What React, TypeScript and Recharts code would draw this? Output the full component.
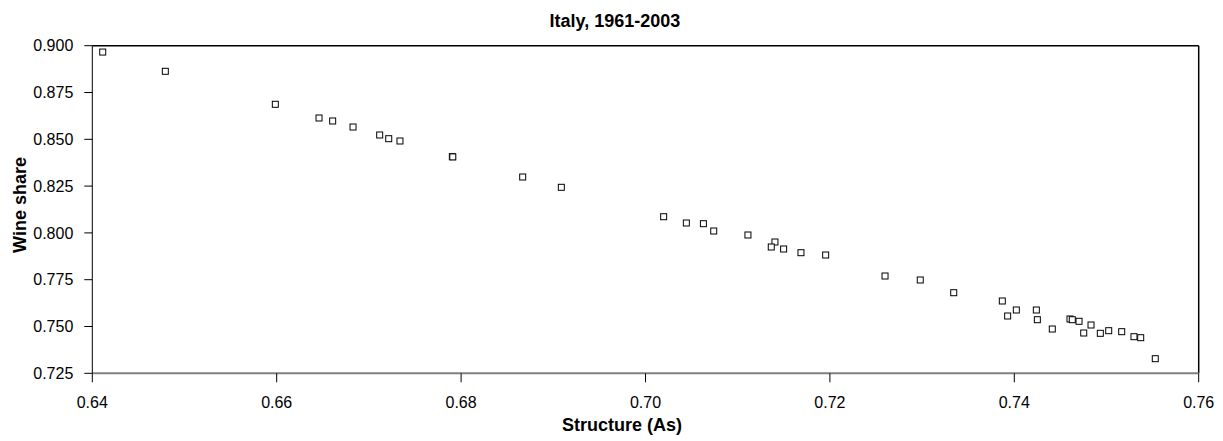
import { ScatterChart, Scatter, XAxis, YAxis, ReferenceLine } from 'recharts'

// Italy 1961-2003: structure (As) vs. wine share
const structureAs = [
  0.64113, 0.64792, 0.65985, 0.66459, 0.66607, 0.66828, 0.67117, 0.67215, 0.67337,
  0.67905, 0.67910, 0.68668, 0.69087, 0.70197, 0.70443, 0.70628, 0.7074, 0.71111,
  0.71404, 0.71364, 0.71498, 0.71686, 0.71954, 0.72598, 0.7298, 0.73343, 0.7387,
  0.73928, 0.74022, 0.74239, 0.7425, 0.74412, 0.74604, 0.74629, 0.74702, 0.74753,
  0.74832, 0.74933, 0.75024, 0.75165, 0.75298, 0.75371, 0.75529,
]
const wineShare = [
  0.8966, 0.88632, 0.8687, 0.86138, 0.85978, 0.85657, 0.8523, 0.85032, 0.84909,
  0.84071, 0.84060, 0.82986, 0.82436, 0.80865, 0.80529, 0.80492, 0.80101, 0.79888,
  0.79514, 0.79247, 0.7914, 0.78942, 0.78819, 0.77697, 0.77484, 0.76805, 0.76362,
  0.75561, 0.75881, 0.75881, 0.75363, 0.74866, 0.75401, 0.75363, 0.75278, 0.74653,
  0.7508, 0.74636, 0.74776, 0.74723, 0.74455, 0.74402, 0.7328,
]
const xTicks = [0.64, 0.66, 0.68, 0.7, 0.72, 0.74, 0.76]
const yTicks = [0.725, 0.75, 0.775, 0.8, 0.825, 0.85, 0.875, 0.9]

const FONT = '"Liberation Sans", Arial, sans-serif'
const W = 1215
const H = 433

function SquareDot(props: any) {
  const { cx, cy } = props
  if (cx == null || cy == null) return null
  return <rect x={cx - 3} y={cy - 3} width={6} height={6} fill="#fff" stroke="#000" strokeWidth={1} />
}

export default function App() {
  const points = structureAs.map((x, i) => ({ x, y: wineShare[i] }))

  return (
    <div style={{ position: 'relative', width: W, height: H, fontFamily: FONT }}>
      <ScatterChart
        width={W}
        height={H}
        margin={{ top: 37.7, right: 24.3, left: 0, bottom: 27.7 }}
      >
        <XAxis
          type="number"
          dataKey="x"
          domain={[0.64, 0.76]}
          ticks={xTicks}
          tickFormatter={(v: number) => v.toFixed(2)}
          height={40}
          axisLine={{ stroke: '#808080', strokeWidth: 2 }}
          tickLine={{ stroke: '#000' }}
          tickSize={9}
          tickMargin={14}
          tick={{ fill: '#000', fontSize: 16, fontFamily: FONT }}
          allowDataOverflow
        />
        <YAxis
          type="number"
          dataKey="y"
          domain={[0.725, 0.9]}
          ticks={yTicks}
          tickFormatter={(v: number) => v.toFixed(3)}
          width={84.3}
          axisLine={{ stroke: '#000' }}
          tickLine={{ stroke: '#000' }}
          tickSize={8}
          tickMargin={11}
          tick={{ fill: '#000', fontSize: 16, fontFamily: FONT }}
          allowDataOverflow
        />
        <ReferenceLine y={0.9} stroke="#000" strokeWidth={1.5} />
        <ReferenceLine x={0.76} stroke="#000" strokeWidth={1.5} />
        <Scatter data={points} shape={SquareDot} isAnimationActive={false} />
      </ScatterChart>
      <svg
        width={W}
        height={H}
        style={{ position: 'absolute', left: 0, top: 0, pointerEvents: 'none' }}
      >
        <text x={607} y={18.7} textAnchor="middle" fontSize={18} fontWeight="bold" fontFamily={FONT}>
          Italy, 1961-2003
        </text>
        <text x={614} y={423} textAnchor="middle" fontSize={18} fontWeight="bold" fontFamily={FONT}>
          Structure (As)
        </text>
        <text
          x={18}
          y={197}
          textAnchor="middle"
          fontSize={18}
          fontWeight="bold"
          fontFamily={FONT}
          transform="rotate(-90, 18, 197)"
        >
          Wine share
        </text>
      </svg>
    </div>
  )
}
